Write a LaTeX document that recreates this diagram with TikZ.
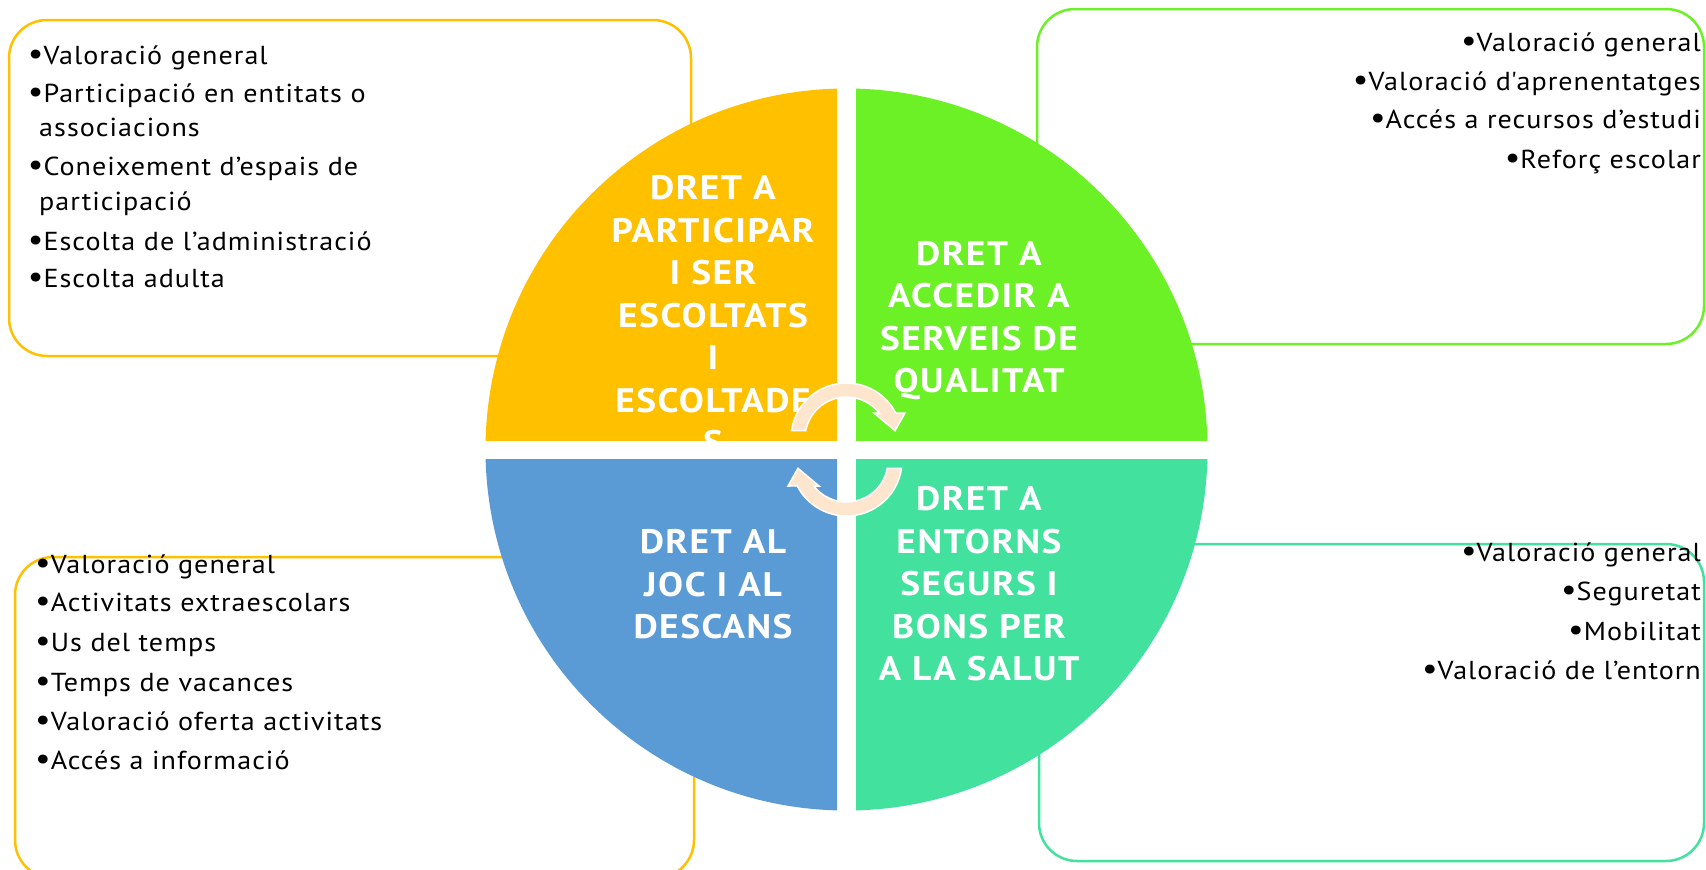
\documentclass[tikz,border=0pt]{standalone}
\usepackage{fontspec}
\setmainfont{PT Sans}
\newfontfamily\listfont{PT Sans}[FakeStretch=1.08, LetterSpace=4]
\newfontfamily\titlefont{PT Sans}[FakeStretch=1.1, LetterSpace=4.5]
\newcommand\bul{{\fontsize{32}{0}\selectfont •}}
\definecolor{cyel}{HTML}{FFC000}
\definecolor{cgrn}{HTML}{6CF026}
\definecolor{cblu}{HTML}{5B9BD5}
\definecolor{cteal}{HTML}{42E19D}
\definecolor{carr}{HTML}{FDE6CD}
\tikzset{
  boxline/.style={line width=2.5pt, rounded corners=38pt},
  listitem/.style={inner sep=0pt, font=\listfont\fontsize{26}{30}\selectfont, text=black},
  title/.style={inner sep=0pt, anchor=north, align=center, text=white, font=\titlefont\fontsize{34}{42.5}\selectfont\bfseries},
  arrowshape/.style={fill=carr, draw=white, line width=1.5pt, line join=miter}
}
\begin{document}
\begin{tikzpicture}[x=1pt,y=-1pt]
\useasboundingbox (0,0) rectangle (1706,870);
% outer boxes
\draw[boxline, draw=cyel] (9,20) rectangle (691,356);
\draw[boxline, draw=cgrn] (1037,9) rectangle (1704,344);
\draw[boxline, draw=cyel] (15,557) rectangle (694,878);
\draw[boxline, draw=cteal] (1039,544) rectangle (1704,861);
% quadrants
\coordinate (c) at (846.5,449.5);
\begin{scope}\clip (0,0) rectangle (837,440); \fill[cyel] (c) circle[radius=361]; \end{scope}
\begin{scope}\clip (856,0) rectangle (1706,440); \fill[cgrn] (c) circle[radius=361]; \end{scope}
\begin{scope}\clip (0,459) rectangle (837,870); \fill[cblu] (c) circle[radius=361]; \end{scope}
\begin{scope}\clip (856,459) rectangle (1706,870); \fill[cteal] (c) circle[radius=361]; \end{scope}
% titles
\node[title] (ttl) at (713,175.5) {DRET A\\PARTICIPAR\\I SER\\ESCOLTATS\\I\\ESCOLTADE\\S};
\node[title] (ttr) at (979,241) {DRET A\\ACCEDIR A\\SERVEIS DE\\QUALITAT};
\node[title] (tbl) at (713,529.5) {DRET AL\\JOC I AL\\DESCANS};
\node[title] (tbr) at (979,486.5) {DRET A\\ENTORNS\\SEGURS I\\BONS PER\\A LA SALUT};
% circular arrows
\path[arrowshape] (791.5,430.7) arc[start angle=188.1, end angle=332.65, radius=55.5]
  -- (905,413) -- (895,430.7) -- (874,413) -- (879.2,413)
  arc[start angle=322.05, end angle=190.8, radius=41.5] -- cycle;
\begin{scope}[rotate around={180:(c)}]
\path[arrowshape] (791.5,430.7) arc[start angle=188.1, end angle=332.65, radius=55.5]
  -- (905,413) -- (895,430.7) -- (874,413) -- (879.2,413)
  arc[start angle=322.05, end angle=190.8, radius=41.5] -- cycle;
\end{scope}
% top-left list
\node[listitem, anchor=base west] (tl1) at (27.7,64) {\bul Valoració general};
\node[listitem, anchor=base west] (tl2) at (27.7,102) {\bul Participació en entitats o};
\node[listitem, anchor=base west] (tl3) at (39,136) {associacions};
\node[listitem, anchor=base west] (tl4) at (27.7,175) {\bul Coneixement d’espais de};
\node[listitem, anchor=base west] (tl5) at (39,210) {participació};
\node[listitem, anchor=base west] (tl6) at (27.7,250) {\bul Escolta de l’administració};
\node[listitem, anchor=base west] (tl7) at (27.7,287) {\bul Escolta adulta};
% top-right list
\node[listitem, anchor=base east] (tr1) at (1701,51.7) {\bul Valoració general};
\node[listitem, anchor=base east] (tr2) at (1701,90) {\bul Valoració d\textquotesingle aprenentatges};
\node[listitem, anchor=base east] (tr3) at (1701,128) {\bul Accés a recursos d’estudi};
\node[listitem, anchor=base east] (tr4) at (1701,168) {\bul Reforç escolar};
% bottom-left list
\node[listitem, anchor=base west] (bl1) at (35,573) {\bul Valoració general};
\node[listitem, anchor=base west] (bl2) at (35,611.7) {\bul Activitats extraescolars};
\node[listitem, anchor=base west] (bl3) at (35,651.7) {\bul Us del temps};
\node[listitem, anchor=base west] (bl4) at (35,691.7) {\bul Temps de vacances};
\node[listitem, anchor=base west] (bl5) at (35,730.7) {\bul Valoració oferta activitats};
\node[listitem, anchor=base west] (bl6) at (35,769.3) {\bul Accés a informació};
% bottom-right list
\node[listitem, anchor=base east] (br1) at (1701,561.7) {\bul Valoració general};
\node[listitem, anchor=base east] (br2) at (1701,600.7) {\bul Seguretat};
\node[listitem, anchor=base east] (br3) at (1701,640) {\bul Mobilitat};
\node[listitem, anchor=base east] (br4) at (1701,679.3) {\bul Valoració de l’entorn};
\end{tikzpicture}
\end{document}
